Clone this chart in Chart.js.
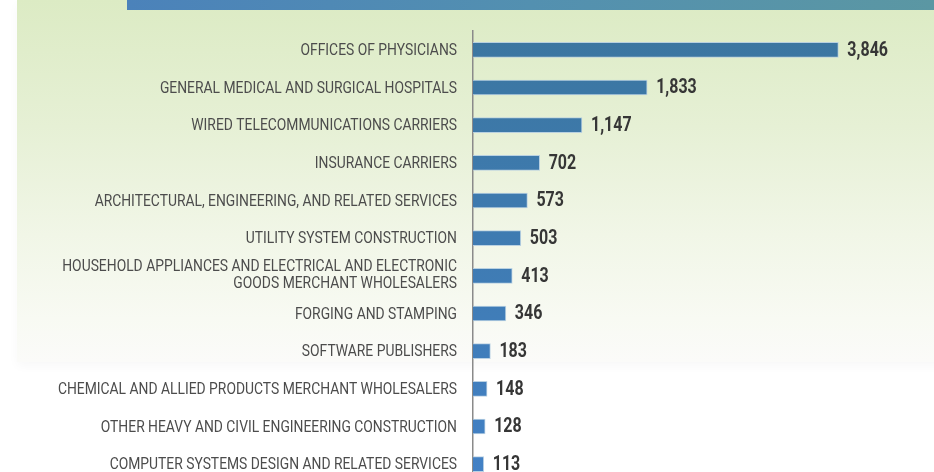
<!DOCTYPE html>
<html>
<head>
    <script src="https://cdn.jsdelivr.net/npm/chart.js"></script>
    <style>
        body { margin: 0; width: 934px; height: 472px; overflow: hidden; background: #fff; position: relative; }
        #panel { position: absolute; left: 17px; top: 0; width: 940px; height: 362px;
                 background: linear-gradient(180deg, #dcebc4 0%, #e6f0d5 35%, #f1f6e7 65%, #f8faf3 88%, #fbfbf9 100%);
                 box-shadow: 0 4px 10px rgba(0,0,0,0.03); }
        #banner { position: absolute; left: 127px; top: 0; width: 807px; height: 10px;
                  background: linear-gradient(90deg, #4b82ba 0%, #5390b0 50%, #5b97a3 100%); }
        #wrap { position: absolute; left: 0; top: 0; width: 934px; height: 490px; }
    </style>
</head>
<body>
    <div id="panel"></div>
    <div id="banner"></div>
    <div id="wrap">
        <canvas id="myChart" width="934" height="490"></canvas>
    </div>

    <script>
        const industries = [
            'OFFICES OF PHYSICIANS',
            'GENERAL MEDICAL AND SURGICAL HOSPITALS',
            'WIRED TELECOMMUNICATIONS CARRIERS',
            'INSURANCE CARRIERS',
            'ARCHITECTURAL, ENGINEERING, AND RELATED SERVICES',
            'UTILITY SYSTEM CONSTRUCTION',
            ['HOUSEHOLD APPLIANCES AND ELECTRICAL AND ELECTRONIC', 'GOODS MERCHANT WHOLESALERS'],
            'FORGING AND STAMPING',
            'SOFTWARE PUBLISHERS',
            'CHEMICAL AND ALLIED PRODUCTS MERCHANT WHOLESALERS',
            'OTHER HEAVY AND CIVIL ENGINEERING CONSTRUCTION',
            'COMPUTER SYSTEMS DESIGN AND RELATED SERVICES'
        ];
        const counts = [3846, 1833, 1147, 702, 573, 503, 413, 346, 183, 148, 128, 113];
        const axisMax = 4000;

        // no condensed face installed, so squeeze Roboto sideways
        function squeezedText(ctx, text, x, y, sx) {
            ctx.save();
            ctx.translate(x, y);
            ctx.scale(sx, 1);
            ctx.fillText(text, 0, 0);
            ctx.restore();
        }

        const categoryLabels = {
            id: 'categoryLabels',
            afterDraw(chart) {
                const ctx = chart.ctx;
                const yScale = chart.scales.y;
                const right = yScale.right - 16;
                ctx.save();
                ctx.font = "17px Roboto, sans-serif";
                ctx.fillStyle = '#4c4c4c';
                ctx.textBaseline = 'middle';
                ctx.textAlign = 'right';
                industries.forEach(function(lab, i) {
                    let y = yScale.getPixelForTick(i) + 1;
                    const lines = Array.isArray(lab) ? lab : [lab];
                    if (lines.length > 1) y -= 2;
                    const lh = 17;
                    lines.forEach(function(line, j) {
                        const ly = y + (j - (lines.length - 1) / 2) * lh;
                        squeezedText(ctx, line, right, ly, 0.815);
                    });
                });
                ctx.restore();
            }
        };

        // numbers at the end of each bar
        const valueLabels = {
            id: 'valueLabels',
            afterDatasetsDraw(chart) {
                const ctx = chart.ctx;
                const meta = chart.getDatasetMeta(0);
                ctx.save();
                ctx.font = "bold 19.5px Roboto, sans-serif";
                ctx.fillStyle = '#363636';
                ctx.textBaseline = 'middle';
                ctx.textAlign = 'left';
                meta.data.forEach(function(bar, i) {
                    squeezedText(ctx, counts[i].toLocaleString('en-US'), bar.x + 9, bar.y + 1, 0.82);
                });
                ctx.restore();
            }
        };

        function barColor(context) {
            const chart = context.chart;
            const area = chart.chartArea;
            if (!area) return '#3e7aaa';
            const g = chart.ctx.createLinearGradient(0, area.top, 0, area.bottom);
            g.addColorStop(0, '#3b76a0');
            g.addColorStop(1, '#4381c6');
            return g;
        }

        const data = {
            labels: industries,
            datasets: [{
                data: counts,
                backgroundColor: barColor,
                borderColor: 'rgba(180,205,225,0.9)',
                borderWidth: 1,
                barThickness: 15
            }]
        };

        const config = {
            type: 'bar',
            data: data,
            options: {
                indexAxis: 'y',
                responsive: false,
                maintainAspectRatio: false,
                animation: false,
                layout: { padding: { top: 31, bottom: 7, right: 81, left: 0 } },
                plugins: {
                    legend: { display: false },
                    tooltip: { enabled: false }
                },
                scales: {
                    x: {
                        display: false,
                        min: 0,
                        max: axisMax
                    },
                    y: {
                        afterFit: function(scale) { scale.width = 473; },
                        grid: { display: false },
                        border: { display: true, color: '#8a8a8a', width: 1.5 },
                        ticks: { display: false }
                    }
                }
            },
            plugins: [valueLabels, categoryLabels]
        };

        const myChart = new Chart(document.getElementById('myChart'), config);
    </script>
</body>
</html>
